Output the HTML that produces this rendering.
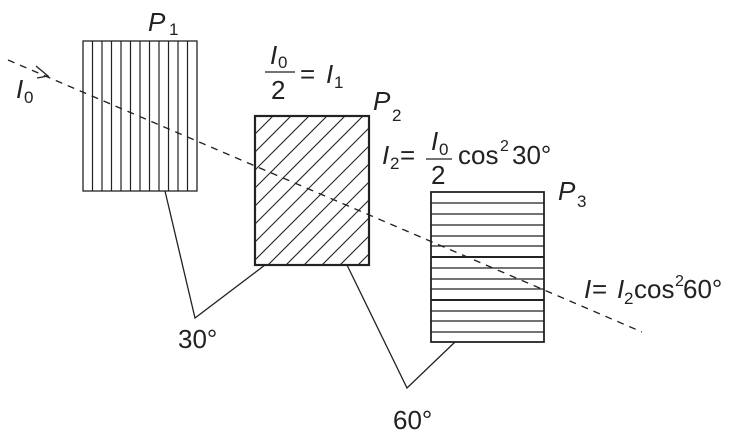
<!DOCTYPE html>
<html><head><meta charset="utf-8"><style>
html,body{margin:0;padding:0;background:#fff;}
svg{display:block;}
text{font-family:"Liberation Sans",sans-serif;fill:#222;}
</style></head><body>
<svg width="729" height="442" viewBox="0 0 729 442" xmlns="http://www.w3.org/2000/svg">
<defs>
<clipPath id="c2"><rect x="255" y="116" width="114" height="149"/></clipPath>
</defs>
<rect x="83" y="41" width="114" height="150" fill="#fff" stroke="#222" stroke-width="1.3"/>
<g stroke="#222" stroke-width="1.2">
<line x1="92.5" y1="41" x2="92.5" y2="191"/><line x1="102" y1="41" x2="102" y2="191"/>
<line x1="111.5" y1="41" x2="111.5" y2="191"/><line x1="121" y1="41" x2="121" y2="191"/>
<line x1="130.5" y1="41" x2="130.5" y2="191"/><line x1="140" y1="41" x2="140" y2="191"/>
<line x1="149.5" y1="41" x2="149.5" y2="191"/><line x1="159" y1="41" x2="159" y2="191"/>
<line x1="168.5" y1="41" x2="168.5" y2="191"/><line x1="178" y1="41" x2="178" y2="191"/>
<line x1="187.5" y1="41" x2="187.5" y2="191"/>
</g>
<rect x="255" y="116" width="114" height="149" fill="#fff"/>
<g clip-path="url(#c2)" stroke="#222" stroke-width="1.1">
<line x1="255" y1="134" x2="273" y2="116"/><line x1="255" y1="152" x2="291" y2="116"/>
<line x1="255" y1="170" x2="309" y2="116"/><line x1="255" y1="188" x2="327" y2="116"/>
<line x1="255" y1="206" x2="345" y2="116"/><line x1="255" y1="224" x2="363" y2="116"/>
<line x1="255" y1="242" x2="381" y2="116"/><line x1="255" y1="260" x2="399" y2="116"/>
<line x1="255" y1="278" x2="417" y2="116"/><line x1="255" y1="296" x2="435" y2="116"/>
<line x1="255" y1="314" x2="453" y2="116"/><line x1="255" y1="332" x2="471" y2="116"/>
<line x1="255" y1="350" x2="489" y2="116"/><line x1="255" y1="368" x2="507" y2="116"/>
<line x1="255" y1="386" x2="525" y2="116"/>
</g>
<rect x="255" y="116" width="114" height="149" fill="none" stroke="#222" stroke-width="2.2"/>
<rect x="431" y="192" width="113" height="150" fill="#fff" stroke="#222" stroke-width="1.8"/>
<g stroke="#222" stroke-width="1.2">
<line x1="431" y1="203" x2="544" y2="203"/><line x1="431" y1="214" x2="544" y2="214"/>
<line x1="431" y1="225" x2="544" y2="225"/><line x1="431" y1="236" x2="544" y2="236"/>
<line x1="431" y1="246" x2="544" y2="246"/><line x1="431" y1="257" x2="544" y2="257" stroke-width="2"/>
<line x1="431" y1="268" x2="544" y2="268"/><line x1="431" y1="279" x2="544" y2="279"/>
<line x1="431" y1="289" x2="544" y2="289"/><line x1="431" y1="300" x2="544" y2="300" stroke-width="2"/>
<line x1="431" y1="311" x2="544" y2="311"/><line x1="431" y1="321" x2="544" y2="321"/>
<line x1="431" y1="332" x2="544" y2="332"/>
</g>
<line x1="8" y1="60" x2="642" y2="332" stroke="#222" stroke-width="1.3" stroke-dasharray="7,6"/>
<path d="M36 66 L48 76 L37 78" fill="none" stroke="#222" stroke-width="1.3"/>
<polyline points="165,191 195,318 265,265" fill="none" stroke="#222" stroke-width="1.3"/>
<polyline points="347,265 407,388 455,342" fill="none" stroke="#222" stroke-width="1.3"/>
<text x="16" y="98" font-size="26" font-style="italic">I</text><text x="24" y="103" font-size="17">0</text>
<text x="148" y="31" font-size="26" font-style="italic">P</text><text x="169" y="35" font-size="17">1</text>
<text x="270" y="64" font-size="26" font-style="italic">I</text><text x="278" y="68" font-size="17">0</text>
<line x1="265" y1="72" x2="295" y2="72" stroke="#222" stroke-width="1.3"/>
<text x="271" y="99" font-size="26">2</text>
<text x="300" y="83" font-size="26">=</text><text x="326" y="83" font-size="26" font-style="italic">I</text><text x="334" y="88" font-size="17">1</text>
<text x="373" y="110" font-size="26" font-style="italic">P</text><text x="392" y="121" font-size="17">2</text>
<text x="382" y="164" font-size="26" font-style="italic">I</text><text x="390" y="169" font-size="17">2</text>
<text x="400" y="164" font-size="26">=</text>
<text x="431" y="150" font-size="26" font-style="italic">I</text><text x="439" y="155" font-size="17">0</text>
<line x1="426" y1="159" x2="452" y2="159" stroke="#222" stroke-width="1.3"/>
<text x="431" y="184" font-size="26">2</text>
<text x="458" y="164" font-size="26">cos</text><text x="500" y="151" font-size="16">2</text><text x="512" y="164" font-size="26">30°</text>
<text x="558" y="200" font-size="26" font-style="italic">P</text><text x="577" y="207" font-size="17">3</text>
<text x="584" y="298" font-size="26" font-style="italic">I</text><text x="592" y="298" font-size="26">=</text>
<text x="617" y="298" font-size="26" font-style="italic">I</text><text x="624" y="304" font-size="17">2</text>
<text x="634" y="298" font-size="26">cos</text><text x="675" y="286" font-size="16">2</text><text x="683" y="298" font-size="26">60°</text>
<text x="178" y="348" font-size="26">30°</text>
<text x="393" y="429" font-size="26">60°</text>
</svg>
</body></html>
